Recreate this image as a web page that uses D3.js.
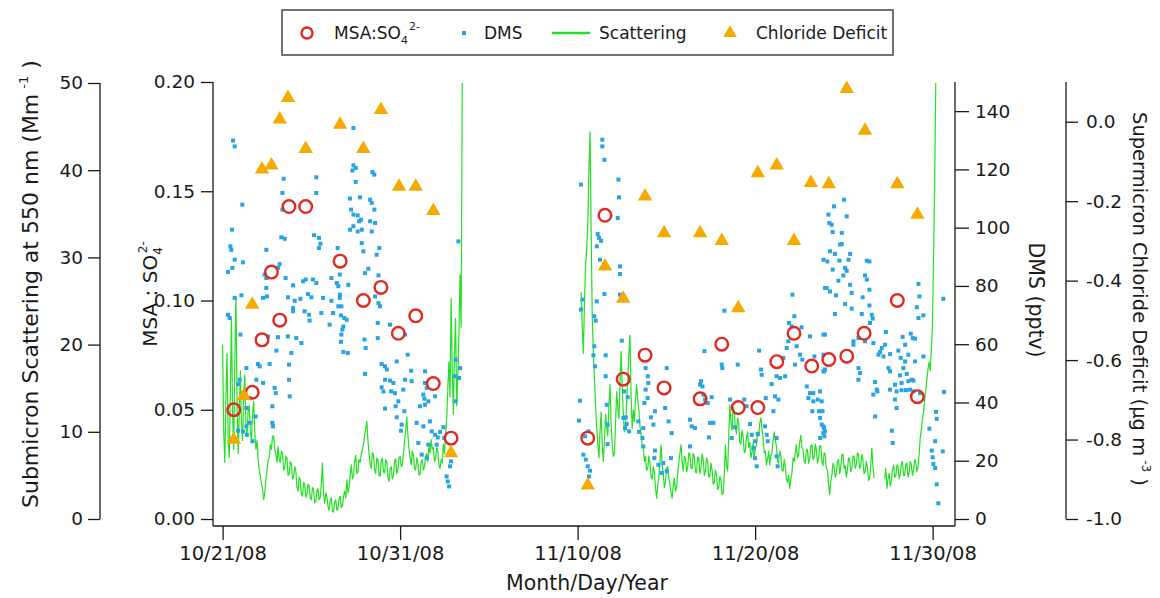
<!DOCTYPE html>
<html>
<head>
<meta charset="utf-8">
<script src="https://cdn.jsdelivr.net/npm/d3@7"></script>
<style>
  body { margin: 0; background: #fff; }
  svg { display: block; font-family: "DejaVu Sans", sans-serif; }
</style>
</head>
<body>
<svg id="chart" width="1160" height="598"></svg>
<script>
// ---- data (time given as days after 10/21/08 00:00 UTC) ----
const baseDate = Date.UTC(2008, 9, 21);
const DAY = 86400000;
const xTickDates = ["2008-10-21", "2008-10-31", "2008-11-10", "2008-11-20", "2008-11-30"];
const msaTicks = [0, 0.05, 0.10, 0.15, 0.20];
const scatTicks = [0, 10, 20, 30, 40, 50];
const dmsTicks = [0, 20, 40, 60, 80, 100, 120, 140];
const clTicks = [-1.0, -0.8, -0.6, -0.4, -0.2, 0.0];

// MSA:SO4(2-) ratio (daily filters)
const msaDays = [0.63, 1.67, 2.22, 2.75, 3.22, 3.74, 4.68, 6.62, 7.93, 8.92, 9.90, 10.88, 11.87, 12.87,
  20.57, 21.54, 22.57, 23.80, 24.87, 26.90, 28.12, 29.05, 30.15, 31.22, 32.19, 33.19, 34.15, 35.16, 36.14, 38.01, 39.14];
const msaValues = [0.050, 0.058, 0.082, 0.113, 0.091, 0.143, 0.143, 0.118, 0.100, 0.106, 0.085, 0.093, 0.062, 0.037,
  0.037, 0.139, 0.064, 0.075, 0.060, 0.055, 0.080, 0.051, 0.051, 0.072, 0.085, 0.070, 0.073, 0.0745, 0.085, 0.100, 0.056];

// Supermicron chloride deficit (ug m-3)
const clDays = [0.63, 1.19, 1.67, 2.22, 2.75, 3.22, 3.68, 4.68, 6.62, 7.93, 8.92, 9.94, 10.88, 11.87, 12.87,
  20.57, 21.54, 22.57, 23.80, 24.87, 26.90, 28.12, 29.05, 30.15, 31.22, 32.19, 33.14, 34.15, 35.16, 36.19, 38.01, 39.14];
const clValues = [-0.80, -0.69, -0.46, -0.12, -0.11, 0.006, 0.06, -0.068, -0.007, -0.068, 0.030, -0.163, -0.163, -0.224, -0.834,
  -0.915, -0.364, -0.445, -0.188, -0.280, -0.280, -0.300, -0.469, -0.129, -0.110, -0.300, -0.154, -0.157, 0.083, -0.022, -0.157, -0.234];

// DMS (pptv): [day, value]
const dmsPoints = [
  [0.59,129.9],[0.68,127.9],[3.44,116.8],[5.28,117.3],[1.11,107.9],[3.37,111.9],[5.28,111.9],[0.53,99.3],[3.37,106.2],
  [3.31,96.7],[3.50,96.2],[5.15,97.4],[5.43,96.5],[5.51,94.5],[5.43,93.0],[0.44,93.6],[0.49,92.4],[2.46,92.4],[0.68,89.0],
  [1.15,88.1],[0.30,84.8],[0.55,86.2],[3.21,87.5],[3.12,86.2],[2.37,83.9],[2.46,82.7],[3.55,82.7],[3.97,80.2],[4.53,81.6],
  [4.68,82.2],[5.09,82.2],[5.28,81.0],[6.13,82.7],[6.60,83.9],[0.68,75.9],[1.06,76.8],[2.46,79.3],[2.28,75.9],[2.50,76.4],
  [3.68,76.1],[4.06,74.9],[3.97,72.4],[4.38,75.6],[4.81,77.2],[5.00,76.1],[5.66,75.9],[6.13,74.9],[6.60,75.9],[3.97,71.3],
  [4.62,71.3],[4.87,70.1],[5.56,70.7],[6.22,70.7],[6.69,73.0],[6.03,66.7],[4.90,68.1],[0.30,70.1],[0.40,69.0],[1.00,63.3],
  [2.56,62.7],[3.12,62.4],[3.68,62.7],[4.15,62.1],[4.44,60.4],[3.03,57.8],[3.87,57.0],[6.69,63.3],[1.34,51.8],[1.99,53.2],
  [2.09,52.4],[2.65,53.2],[3.74,53.0],[0.96,47.8],[0.87,46.3],[1.90,47.8],[2.28,46.7],[3.74,47.8],[2.93,45.0],[2.99,43.2],
  [3.78,42.1],[1.52,41.5],[1.34,38.1],[1.86,35.2],[2.80,38.7],[2.80,33.0],[2.84,31.8],[0.87,30.3],[1.15,30.1],[1.34,31.8],
  [1.52,33.0],[1.68,26.7],[1.37,28.9],
  [7.37,134.2],[7.37,121.4],[7.50,120.5],[7.31,119.6],[8.44,119.1],[8.55,118.2],[7.50,115.7],[7.18,110.0],[7.74,110.4],
  [8.31,109.6],[8.40,108.5],[7.24,106.2],[7.37,104.5],[7.61,104.2],[7.69,102.2],[7.80,102.7],[8.55,106.2],[8.31,102.2],
  [8.59,101.6],[7.18,99.3],[7.37,100.5],[7.61,98.7],[7.84,99.3],[8.40,98.7],[6.48,93.0],[7.84,94.7],[8.83,93.0],[8.68,90.7],
  [7.93,91.9],[6.43,81.0],[6.52,79.9],[7.08,80.4],[8.02,84.4],[8.21,85.9],[8.78,83.6],[6.61,77.0],[6.52,73.0],[6.67,69.9],
  [6.86,69.0],[6.99,68.4],[6.80,66.1],[6.75,65.0],[8.59,76.4],[8.78,74.1],[8.87,73.0],[8.74,67.3],[6.67,60.8],[6.80,57.3],
  [7.05,57.0],[7.99,61.6],[8.06,58.7],[8.74,62.1],[9.43,66.7],[10.28,63.3],[10.43,56.4],[8.02,49.8],[8.96,53.2],[9.15,52.4],
  [9.25,51.3],[9.81,54.1],[10.62,50.9],[11.40,50.7],[9.15,47.8],[9.43,47.5],[8.96,45.2],[9.06,43.8],[9.62,46.7],[9.49,43.8],
  [9.71,43.2],[10.18,44.4],[10.65,47.3],[11.40,46.7],[11.50,45.0],[11.31,42.7],[11.97,42.1],[10.28,47.8],[9.90,40.4],
  [9.75,38.7],[10.24,37.0],[9.81,34.9],[9.15,37.9],[11.37,41.3],[11.59,40.4],[11.12,38.7],[11.40,39.2],[10.93,33.0],
  [11.31,31.8],[11.68,33.5],[11.78,30.1],[10.09,32.4],[10.05,30.3],[11.97,28.9],[12.25,29.9],[12.44,31.5],[12.49,27.8],
  [12.12,28.0],[11.03,26.1],[11.59,25.5],[12.06,25.5],[11.22,22.1],[11.50,20.9],[12.81,18.1],[12.87,19.8],[12.62,14.6],
  [12.68,12.9],[12.76,11.2],[13.28,95.3],[13.13,54.7],[13.38,51.8],[13.32,48.4],[13.09,49.0],[13.13,40.4],
  [20.19,114.8],[21.39,130.2],[21.39,127.9],[21.51,123.3],[22.30,116.5],[22.33,110.4],[22.26,103.3],[21.13,97.8],
  [21.21,96.5],[21.32,95.5],[21.08,93.6],[21.26,89.0],[22.39,86.7],[22.39,84.1],[21.51,77.2],[22.39,77.0],[20.27,75.3],
  [20.19,71.9],[21.08,74.7],[20.94,69.6],[21.02,68.1],[22.49,61.2],[20.94,59.3],[20.89,56.2],[21.58,56.2],[20.98,52.4],
  [21.58,49.0],[20.13,40.6],[20.08,33.8],[21.64,39.2],[21.69,32.4],[21.69,25.7],[20.32,22.1],[20.46,20.4],[20.57,18.1],
  [20.70,16.6],[20.64,14.6],[20.61,30.1],[20.42,28.4],[22.63,43.8],[22.82,41.8],[22.71,34.9],[22.76,32.6],[22.67,31.2],
  [22.90,30.1],[22.58,34.7],[23.42,33.5],[23.46,29.9],[23.70,31.2],[23.83,51.8],[23.95,49.0],[23.98,46.7],[23.83,44.4],
  [23.76,39.8],[23.95,41.5],[24.36,37.0],[24.13,34.9],[24.27,32.4],[23.65,27.8],[23.70,24.9],[24.36,23.5],[24.32,20.9],
  [24.55,18.6],[24.74,15.8],[24.83,19.2],[25.02,16.4],[25.26,20.9],[25.02,51.8],[24.93,38.1],[25.12,33.5],[25.30,29.5],
  [26.33,34.1],[26.43,31.8],[26.33,24.9],[26.90,46.1],
  [26.61,31.2],[26.95,47.3],[27.03,45.5],[27.08,42.7],[27.18,41.0],[27.33,39.8],[27.55,41.8],[27.40,28.0],[27.14,57.6],
  [27.46,33.0],[27.65,33.0],[28.27,71.5],[28.12,53.0],[28.15,51.8],[29.02,53.0],[28.59,41.0],[28.87,31.5],[28.68,27.8],
  [30.22,57.8],[30.33,51.3],[30.37,49.5],[30.93,46.3],[31.21,49.0],[31.40,48.4],[31.69,49.0],[31.12,42.1],[31.31,41.0],
  [31.03,37.0],[30.60,41.5],[29.39,41.0],[29.52,38.7],[29.71,32.6],[29.81,28.9],[30.15,29.2],[30.00,26.7],[30.56,31.8],
  [30.65,28.9],[30.71,26.7],[31.21,27.8],[29.90,24.4],[30.00,20.9],[30.09,18.1],[31.21,21.5],[31.27,18.1],[32.10,77.0],
  [32.21,69.6],[31.91,67.3],[32.06,66.1],[32.62,65.8],[31.87,61.0],[31.78,58.7],[32.34,59.3],[32.53,56.4],[32.66,54.7],
  [32.25,53.0],[31.59,55.3],[33.09,62.7],[33.34,55.8],[33.85,63.3],[32.91,45.5],[33.09,43.2],[33.28,43.2],[33.00,41.5],
  [33.28,40.4],[33.53,41.0],[33.22,37.0],[33.60,37.0],[33.66,34.7],[33.85,31.8],[33.94,30.1],[33.90,28.4],[33.85,56.4],
  [33.85,50.7],[33.85,89.0],[33.94,79.3],
  [35.01,109.6],[34.44,107.3],[34.13,104.5],[35.16,103.9],[34.18,101.6],[34.31,101.0],[34.37,98.5],[34.88,98.2],[34.22,91.9],
  [34.50,91.0],[34.79,94.2],[34.88,94.4],[35.35,91.0],[34.07,88.4],[34.75,88.7],[35.26,89.0],[35.07,86.2],[35.16,85.2],
  [34.37,85.6],[34.97,83.6],[34.69,81.8],[36.29,88.7],[36.44,88.4],[36.19,83.6],[36.29,82.2],[36.44,78.7],[34.03,79.3],
  [34.22,78.1],[35.35,80.4],[35.44,77.6],[34.56,76.8],[35.07,73.8],[35.44,72.2],[34.50,70.4],[36.06,76.1],[36.44,73.3],
  [36.01,70.4],[36.57,70.1],[36.62,68.8],[36.47,67.3],[33.94,63.3],[35.82,62.1],[36.19,61.0],[35.54,61.0],[35.54,59.8],
  [36.66,60.4],[37.37,64.2],[37.32,59.8],[37.13,58.7],[37.04,57.3],[37.23,55.8],[36.95,56.4],[37.60,56.6],[38.31,62.5],
  [38.45,59.8],[38.77,63.6],[38.88,62.1],[39.01,61.9],[38.07,57.8],[38.20,55.3],[38.45,54.1],[38.63,56.4],[39.01,54.1],
  [39.48,55.8],[39.20,80.7],[39.26,76.4],[39.11,72.7],[39.20,69.0],[39.48,69.9],[38.35,51.8],[38.54,49.8],[38.16,49.3],
  [38.63,47.3],[38.82,47.8],[38.25,46.7],[37.51,51.8],[37.60,50.7],[37.60,44.4],[37.88,46.1],[37.97,43.8],[37.88,41.0],
  [37.97,38.1],[38.25,44.2],[38.50,44.2],[38.73,44.4],[38.92,47.5],[38.92,43.8],[39.29,43.2],[33.88,50.7],[33.94,51.3],
  [35.82,51.8],[35.82,47.8],[35.91,50.1],[36.76,47.0],[36.85,44.4],[36.66,42.7],[36.89,43.8],[36.76,35.2],[33.66,43.8],
  [33.75,40.4],[33.80,37.0],[33.75,32.4],[33.66,27.8],[33.88,31.2],[33.84,29.5],[37.70,30.3],[37.75,26.1],[40.60,75.6],
  [40.64,43.6],[40.19,36.8],[40.23,34.4],[39.82,31.0],[40.14,26.7],[39.95,23.5],[40.00,21.2],[40.04,18.9],[40.14,17.5],
  [40.57,23.2],[40.23,11.9],[40.32,5.4]
];

// Submicron scattering at 550 nm (Mm-1), 90-minute records, one array per continuous run
const scatStepDays = 0.0625;
const scatRun1Start = 0.0;
const scatRun1 = [20, 10, 6.5, 14, 19, 9, 7, 15, 23, 12, 8, 18, 25.5, 14, 7.5, 12, 17, 11, 9, 14,
  16.5, 11, 9.5, 12.5, 13, 10, 9, 12, 13.5, 10, 8, 9, 7, 5.5, 5, 4, 3.5, 2.2, 3, 4.5,
  5.5, 6.8, 7, 8.5, 8, 9.5, 9.5, 8, 7.5, 6.5, 8.3, 6.8, 6.5, 7.8, 7.5, 5.6, 5.8, 7.2, 7, 5.0,
  5.2, 6.6, 6.3, 4.6, 4.8, 6.0, 5.5, 3.6, 3.2, 4.8, 4.5, 2.9, 2.6, 4.2, 4, 2.5, 2.8, 4.0, 3.8, 2.4,
  2.2, 3.6, 3.4, 1.9, 2.0, 3.3, 3.5, 2.2, 2.5, 4.0, 6.4, 3.0, 1.8, 3.0, 2.6, 1.4, 1.0, 2.2, 2.4, 0.9,
  0.8, 2.0, 2.2, 1.0, 1.2, 2.4, 2.6, 1.3, 1.5, 2.6, 3.2, 2.4, 4.5, 3.0, 3.6, 5.0, 6.2, 4.6, 5.0, 6.6,
  7.3, 5.2, 5.4, 6.8, 6.5, 7.4, 8.0, 8.6, 9.5, 10.4, 11.2, 9.0, 7.5, 6.4, 5.8, 7.6, 7.4, 5.6, 5.2, 7.0,
  6.8, 5.0, 4.9, 6.6, 7.0, 5.4, 5.3, 6.8, 6.5, 4.8, 4.3, 5.8, 6.0, 4.6, 5.0, 6.6, 6.9, 5.2, 5.6, 7.0,
  7.2, 6.0, 6.3, 7.6, 8.8, 10.2, 11.7, 9.6, 8.0, 7.0, 6.2, 7.8, 7.3, 5.8, 5.6, 7.0, 6.4, 5.0, 5.2, 6.6,
  6.8, 5.6, 6.0, 7.2, 7.5, 6.6, 8.3, 7.6, 9.1, 8.0, 8.2, 6.6, 7.0, 8.2, 7.8, 6.2, 5.8, 6.8, 6.4, 8.6,
  7.5, 9.6, 11.5, 15, 18, 14, 25.3, 17, 12, 19, 23, 13, 16, 21, 28, 22, 50];
const scatRun2Start = 20.2;
const scatRun2 = [26, 22, 19, 25, 29, 31, 34, 40, 44.4, 33, 23, 19, 16, 13, 10.4, 8.5, 7, 10, 12.3, 8.5,
  6.6, 9, 12, 10.5, 9.5, 13, 15.4, 11, 8.5, 7.2, 7.5, 11, 14.6, 12.8, 11.5, 15.5, 19.2, 15, 12, 10,
  10.5, 13.5, 16, 19, 21.1, 14, 10.4, 12.5, 11.2, 13.8, 15.4, 13.6, 12.5, 10.6, 9.8, 8.4, 8.1, 6.6, 7.2, 5.6,
  5.8, 7.2, 6.5, 4.8, 4.6, 6.0, 5.4, 3.6, 2.4, 3.8, 4.8, 6.5, 8.5, 6.2, 5.2, 3.6, 4.3, 5.8, 6.0, 4.6,
  4.1, 3.0, 2.4, 3.8, 4.7, 3.2, 3.6, 5.2, 6.4, 7.6, 8.5, 6.6, 5.5, 7.2, 7.0, 5.4, 5.9, 7.6, 7.4, 5.8,
  5.8, 7.5, 7.2, 5.4, 5.3, 7.1, 7.0, 5.2, 5.9, 7.4, 6.9, 5.0, 5.5, 7.0, 6.6, 4.8, 4.9, 6.4, 5.6, 4.0,
  4.2, 5.6, 5.1, 3.4, 3.6, 4.9, 4.4, 2.8, 3.0, 5.0, 8.5, 6.0, 5.5, 9.5, 13.1, 11.0, 10.2, 12.8, 12.4, 10.4,
  9.8, 11.6, 10.9, 8.8, 8.6, 10.2, 9.4, 7.6, 7.8, 9.4, 10.0, 8.2, 8.8, 7.0, 7.6, 8.8, 6.8, 8.2, 8.4, 10.0,
  9.5, 11.0, 11.6, 10.2, 9.2, 7.6, 7.8, 6.2, 6.9, 7.8, 6.2, 7.4, 7.6, 9.0, 10.0, 9.0, 8.4, 6.6, 6.4, 7.8,
  7.2, 5.6, 5.5, 6.8, 5.9, 4.6, 4.2, 5.0, 3.5, 4.6, 5.3, 7.0, 6.6, 7.6, 8.5, 7.0, 7.4, 8.8, 9.6, 8.2,
  8.0, 6.6, 6.4, 8.0, 7.9, 6.4, 6.8, 8.4, 8.5, 6.8, 7.1, 8.6, 7.9, 6.4, 6.9, 8.4, 8.4, 6.6, 6.1, 7.6,
  7.4, 5.8, 5.6, 4.0, 2.8, 4.4, 5.0, 6.4, 6.0, 4.8, 5.2, 6.6, 6.8, 5.2, 5.9, 7.4, 7.4, 5.8, 6.1, 4.8,
  5.6, 7.0, 6.9, 5.4, 5.8, 7.2, 7.2, 5.8, 6.2, 7.6, 7.4, 5.8, 6.1, 7.4, 6.8, 5.2, 5.4, 6.6, 6.0, 4.4,
  4.7, 6.2, 8.1, 6.0, 4.7];
const scatRun3Start = 37.3;
const scatRun3 = [4.7, 5.8, 3.5, 4.6, 5.2, 3.8, 4.3, 5.6, 6.2, 4.8, 4.9, 6.2, 6.0, 4.6, 5.1, 6.4, 6.6, 5.0, 5.0, 6.2,
  6.4, 4.8, 5.3, 6.6, 6.2, 5.0, 5.6, 6.8, 6.6, 5.4, 6.0, 7.4, 9.3, 10.2, 11.5, 12.2, 13.6, 14.8, 16.0, 17.2,
  18.0, 17.0, 19.5, 22, 30, 38, 50];

// ---- colours ----
const colMsa = "#e3281f";
const colDms = "#28a4e4";
const colScat = "#22e022";
const colCl = "#f6aa00";
const colAxis = "#1a1a1a";

// ---- layout ----
const svg = d3.select("#chart");
const plotL = 213, plotR = 955, plotTop = 82, zeroY = 519, baseY = 526;
const dayToDate = d => new Date(baseDate + d * DAY);

const x = d3.scaleUtc()
  .domain([dayToDate(-0.541), dayToDate(41.26)])
  .range([plotL, plotR]);
const yMsa = d3.scaleLinear().domain([0, 0.2]).range([zeroY, plotTop]);
const yScat = d3.scaleLinear().domain([0, 50]).range([zeroY, plotTop + 1]);
const yDms = d3.scaleLinear().domain([0, 150]).range([zeroY, plotTop]);
const yCl = d3.scaleLinear().domain([-1.0, 0.1]).range([zeroY, plotTop]);

// ---- scattering trace ----
const runs = [[scatRun1Start, scatRun1], [scatRun2Start, scatRun2], [scatRun3Start, scatRun3]];
const line = d3.line()
  .x(d => x(dayToDate(d[0])))
  .y(d => yScat(d[1]));
svg.append("g").selectAll("path")
  .data(runs.map(([s, vals]) => vals.map((v, i) => [s + i * scatStepDays, v])))
  .join("path")
  .attr("d", line)
  .attr("fill", "none")
  .attr("stroke", colScat)
  .attr("stroke-width", 1.2)
  .attr("stroke-linejoin", "round");

// ---- DMS dots ----
svg.append("g").selectAll("rect")
  .data(dmsPoints)
  .join("rect")
  .attr("x", d => x(dayToDate(d[0])) - 2)
  .attr("y", d => yDms(d[1]) - 2)
  .attr("width", 4)
  .attr("height", 4)
  .attr("fill", colDms);

// ---- MSA:SO4 circles ----
svg.append("g").selectAll("circle")
  .data(msaDays.map((d, i) => [d, msaValues[i]]))
  .join("circle")
  .attr("cx", d => x(dayToDate(d[0])))
  .attr("cy", d => yMsa(d[1]))
  .attr("r", 6.3)
  .attr("fill", "none")
  .attr("stroke", colMsa)
  .attr("stroke-width", 2.4);

// ---- chloride deficit triangles ----
const tri = d3.symbol().type(d3.symbolTriangle).size(90);
svg.append("g").selectAll("path")
  .data(clDays.map((d, i) => [d, clValues[i]]))
  .join("path")
  .attr("d", tri)
  .attr("transform", d => `translate(${x(dayToDate(d[0]))},${yCl(d[1])})`)
  .attr("fill", colCl);

// ---- axes ----
function styleAxis(g, fontSize) {
  g.select(".domain").remove();
  g.selectAll(".tick line").attr("stroke", colAxis).attr("stroke-width", 1.3);
  g.selectAll(".tick text").attr("fill", colAxis).style("font-size", fontSize + "px")
    .style("font-family", '"DejaVu Sans", sans-serif');
}
function axisLine(x1, y1, x2, y2) {
  svg.append("line").attr("x1", x1).attr("y1", y1).attr("x2", x2).attr("y2", y2)
    .attr("stroke", colAxis).attr("stroke-width", 1.3);
}
const parseDate = d3.utcParse("%Y-%m-%d");

svg.append("g").attr("transform", `translate(0,${baseY})`)
  .call(d3.axisBottom(x).tickValues(xTickDates.map(parseDate))
    .tickFormat(d3.utcFormat("%m/%d/%y")).tickSize(14).tickPadding(6))
  .call(g => styleAxis(g, 19.5));
axisLine(plotL, baseY, plotR, baseY);

svg.append("g").attr("transform", `translate(${plotL},0)`)
  .call(d3.axisLeft(yMsa).tickValues(msaTicks).tickFormat(d3.format(".2f")).tickSize(12).tickPadding(6))
  .call(g => styleAxis(g, 18.5));
axisLine(plotL, plotTop, plotL, baseY);

svg.append("g").attr("transform", "translate(100,0)")
  .call(d3.axisLeft(yScat).tickValues(scatTicks).tickFormat(d3.format("d")).tickSize(12).tickPadding(5))
  .call(g => styleAxis(g, 18.5));
axisLine(100, plotTop + 1, 100, zeroY);

svg.append("g").attr("transform", `translate(${plotR},0)`)
  .call(d3.axisRight(yDms).tickValues(dmsTicks).tickFormat(d3.format("d")).tickSize(14).tickPadding(6))
  .call(g => styleAxis(g, 18.5));
axisLine(plotR, plotTop, plotR, baseY);

svg.append("g").attr("transform", "translate(1066,0)")
  .call(d3.axisRight(yCl).tickValues(clTicks)
    .tickFormat(d => d3.format(".1f")(d).replace("\u2212", "-")).tickSize(12).tickPadding(8))
  .call(g => styleAxis(g, 18.5));
axisLine(1066, plotTop, 1066, zeroY);

// ---- axis titles ----
function richText(parent, parts, size) {
  const t = parent.append("text").attr("fill", colAxis).style("font-size", size + "px");
  parts.forEach(p => {
    const s = t.append("tspan").text(p.text);
    if (p.size) s.style("font-size", p.size + "px");
    if (p.dy) s.attr("dy", p.dy);
    if (p.dx) s.attr("dx", p.dx);
  });
  return t;
}

svg.append("text")
  .attr("x", 587).attr("y", 590)
  .attr("text-anchor", "middle").attr("fill", colAxis)
  .style("font-size", "20.5px").text("Month/Day/Year");

richText(svg.append("g").attr("transform", "translate(38,508) rotate(-90)"), [
  { text: "Submicron Scattering at 550 nm (Mm" },
  { text: "-1", size: 13, dy: -10, dx: 5 },
  { text: " )", dy: 10 }
], 22);

richText(svg.append("g").attr("transform", "translate(157,294) rotate(-90)"), [
  { text: "MSA : SO" },
  { text: "4", size: 12, dy: 5 },
  { text: "2-", size: 12, dy: -15, dx: -6 }
], 20).attr("text-anchor", "middle");

richText(svg.append("g").attr("transform", "translate(1029,300) rotate(90)"), [
  { text: "DMS (pptv)" }
], 20.5).attr("text-anchor", "middle");

richText(svg.append("g").attr("transform", "translate(1133,112) rotate(90)"), [
  { text: "Supermicron Chloride Deficit (\u00b5g m" },
  { text: "-3", size: 12, dy: -9, dx: 4 },
  { text: " )", dy: 9 }
], 19.5);

// ---- legend ----
const lg = svg.append("g");
lg.append("rect").attr("x", 282).attr("y", 10).attr("width", 611).attr("height", 45)
  .attr("fill", "#fff").attr("stroke", "#444").attr("stroke-width", 1.5);
const legY = 33;
lg.append("circle").attr("cx", 307).attr("cy", legY).attr("r", 5.5)
  .attr("fill", "none").attr("stroke", colMsa).attr("stroke-width", 2.4);
richText(lg.append("g").attr("transform", `translate(334,${legY + 6})`), [
  { text: "MSA:SO" },
  { text: "4", size: 11, dy: 5 },
  { text: "2-", size: 11, dy: -14, dx: 1 }
], 17);
lg.append("rect").attr("x", 462).attr("y", legY - 2).attr("width", 4).attr("height", 4).attr("fill", colDms);
richText(lg.append("g").attr("transform", `translate(484,${legY + 6})`), [{ text: "DMS" }], 17);
lg.append("line").attr("x1", 552).attr("x2", 590).attr("y1", legY).attr("y2", legY)
  .attr("stroke", colScat).attr("stroke-width", 2.5);
richText(lg.append("g").attr("transform", `translate(599,${legY + 6})`), [{ text: "Scattering" }], 17);
lg.append("path").attr("d", d3.symbol().type(d3.symbolTriangle).size(80))
  .attr("transform", `translate(730,${legY})`).attr("fill", colCl);
richText(lg.append("g").attr("transform", `translate(756,${legY + 6})`), [{ text: "Chloride Deficit" }], 17);
</script>
</body>
</html>
